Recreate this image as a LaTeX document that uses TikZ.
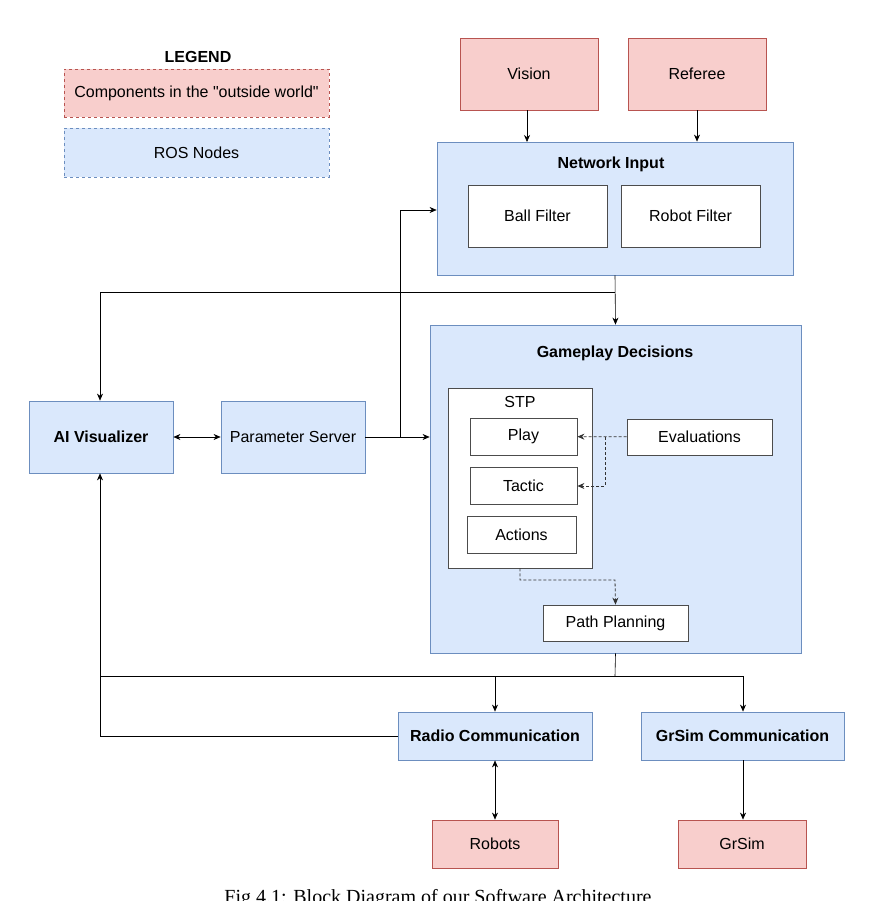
\documentclass[tikz,border=0pt]{standalone}
\usepackage{fontspec}
\setmainfont{Liberation Sans}
\newfontfamily\capfont{Liberation Serif}
\usetikzlibrary{arrows.meta, positioning}
\definecolor{outfill}{HTML}{F8CECC}
\definecolor{outdraw}{HTML}{B85450}
\definecolor{rosfill}{HTML}{DAE8FC}
\definecolor{rosdraw}{HTML}{6C8EBF}
\begin{document}
\begin{tikzpicture}[x=1pt, y=-1pt, every node/.style={font=\fontsize{16}{19}\selectfont},
  bfont/.style={font=\bfseries\fontsize{16}{19}\selectfont},
  obox/.style={draw=outdraw, fill=outfill, thick, align=center, inner sep=0pt},
  rbox/.style={draw=rosdraw, fill=rosfill, thick, align=center, inner sep=0pt},
  wbox/.style={draw=black!70, fill=white, thick, align=center, inner sep=0pt},
  conn/.style={-{Stealth[length=7pt,width=6pt]}, black, semithick},
  dconn/.style={conn, dash pattern=on 3pt off 2pt, thick, black!80}]
  \useasboundingbox (0,0) rectangle (876,901);
  % legend
  \node[bfont] (leg) at (198,57) {LEGEND};
  \node[obox, dashed, minimum width=265pt, minimum height=48pt] (legout) at (196.5,93) {Components in the \textquotedbl outside world\textquotedbl};
  \node[rbox, dashed, minimum width=265pt, minimum height=49pt] (legros) at (196.5,152.5) {ROS Nodes};

  % outside world inputs
  \node[obox, minimum width=138pt, minimum height=72pt] (vision) at (529,74) {Vision};
  \node[obox, minimum width=138pt, minimum height=72pt] (referee) at (697,74) {Referee};

  % network input
  \node[rbox, minimum width=356pt, minimum height=133pt] (netin) at (615,208.5) {};
  \node[bfont] (nettitle) at (611,164) {Network Input};
  \node[wbox, minimum width=139pt, minimum height=62pt] (ball) at (537.5,216) {Ball Filter};
  \node[wbox, minimum width=139pt, minimum height=62pt] (robot) at (690.5,216) {Robot Filter};

  % gameplay decisions
  \node[rbox, minimum width=371pt, minimum height=328pt] (game) at (615.5,489) {};
  \node[bfont] (gametitle) at (615,353) {Gameplay Decisions};
  \node[wbox, minimum width=144pt, minimum height=180pt] (stp) at (520,478) {};
  \node (stptitle) at (520,402) {STP};
  \node[wbox, minimum width=107pt, minimum height=37pt] (play) at (523.5,436.5) {Play};
  \node[wbox, minimum width=107pt, minimum height=37pt] (tactic) at (523.5,485.5) {Tactic};
  \node[wbox, minimum width=109pt, minimum height=37pt] (actions) at (521.5,534.5) {Actions};
  \node[wbox, minimum width=145pt, minimum height=36pt] (evals) at (699.5,437) {Evaluations};
  \node[wbox, minimum width=145pt, minimum height=36pt] (path) at (615.5,623) {Path Planning};

  % left side
  \node[rbox, bfont, minimum width=144pt, minimum height=72pt] (aivis) at (101,437) {AI Visualizer};
  \node[rbox, minimum width=144pt, minimum height=72pt] (params) at (293,437) {Parameter Server};

  % communication
  \node[rbox, bfont, minimum width=194pt, minimum height=48pt] (radio) at (495,736) {Radio Communication};
  \node[rbox, bfont, minimum width=203pt, minimum height=48pt] (grcomm) at (742.5,736) {GrSim Communication};
  \node[obox, minimum width=126pt, minimum height=48pt] (robots) at (495,844) {Robots};
  \node[obox, minimum width=128pt, minimum height=48pt] (grsim) at (742,844) {GrSim};

  \node[font=\capfont\fontsize{20}{24}\selectfont, anchor=north] (cap) at (438,886) {Fig 4.1: Block Diagram of our Software Architecture};

  % connectors
  \draw[conn] (vision.south -| 527,0) -- (527,142);
  \draw[conn] (referee.south) -- (netin.north -| referee.south);
  \draw[conn] (netin.south) -- (game.north);
  \draw[conn] (615,292) -- (100,292) -- (aivis.north -| 100,0);
  \draw[semithick, {Stealth[length=7pt,width=6pt]}-{Stealth[length=7pt,width=6pt]}] (aivis) -- (params);
  \draw[conn] (params) -- (game.west |- params);
  \draw[conn] (400,437) -- (400,210) -- (netin.west |- 0,210);
  \draw[dconn] (evals) -- (play);
  \draw[dconn] (605,437) -- (605,486) -- (tactic.east |- 0,486);
  \draw[dconn] (stp.south) -- (520,580) -- (615,580) -- (path.north);
  \draw[semithick] (game.south) -- (615,676);
  \draw[semithick] (100,676) -- (743,676);
  \draw[conn] (495,676) -- (radio.north);
  \draw[conn] (743,676) -- (grcomm.north -| 743,0);
  \draw[conn] (radio.west) -- (100,736) -- (aivis.south -| 100,0);
  \draw[semithick, {Stealth[length=7pt,width=6pt]}-{Stealth[length=7pt,width=6pt]}] (radio) -- (robots);
  \draw[conn] (grcomm.south -| 743,0) -- (grsim.north -| 743,0);
\end{tikzpicture}
\end{document}
